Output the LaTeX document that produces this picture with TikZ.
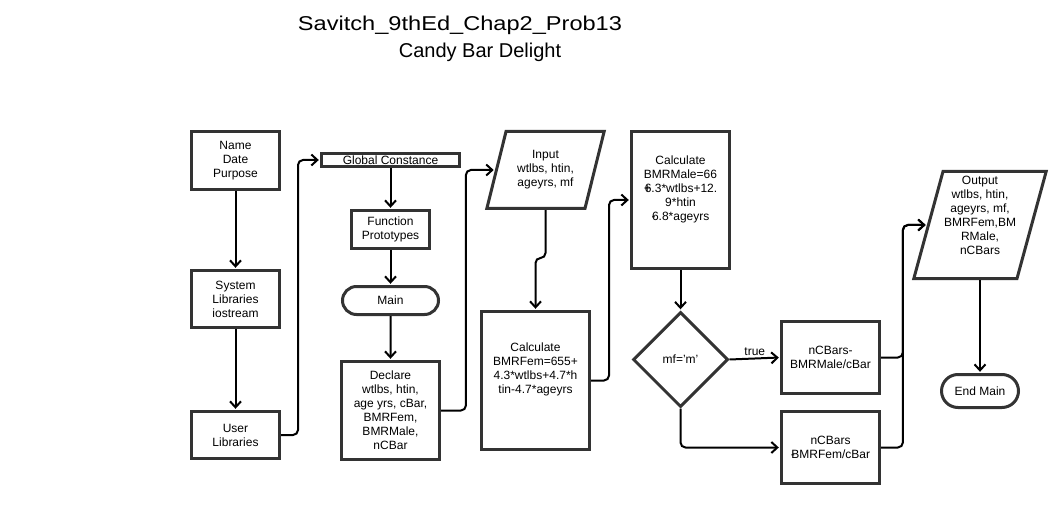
\documentclass[tikz,border=0pt]{standalone}
\usepackage{graphicx}
\usepackage{fontspec}
\setmainfont{Liberation Sans}
\usetikzlibrary{arrows.meta,shapes.geometric,shapes.misc}
\definecolor{boxgray}{HTML}{333333}
\newcommand{\bodyfnt}{\fontsize{12}{14}\selectfont}
\begin{document}
\begin{tikzpicture}[x=1pt,y=-1pt,
  box/.style={draw=boxgray, line width=3pt, fill=white, align=center, font=\bodyfnt, inner sep=1pt},
  term/.style={box, rounded rectangle},
  io/.style={box, trapezium, trapezium stretches=true},
  conn/.style={line width=2pt, draw=black, rounded corners=5pt, shorten >=1.2pt,
    -{Straight Barb[length=6pt,width=11pt]}},
  lbl/.style={font=\bodyfnt},
  ttl/.style={font=\fontsize{20}{24}\selectfont, inner sep=0pt}
]
\useasboundingbox (0,0) rectangle (1055,505);
\fill[white] (0,0) rectangle (1055,505);

% title
\node[ttl] (t1) at (460,25) {\scalebox{1.18}[1]{Savitch\_9thEd\_Chap2\_Prob13}};
\node[ttl] (t2) at (480,52) {Candy Bar Delight};

% column 1
\node[box, minimum width=88, minimum height=58] (name) at (235.5,160.5) {Name\\Date\\Purpose};
\node[box, minimum width=88, minimum height=57] (sys) at (235.5,299) {System\\Libraries\\iostream};
\node[box, minimum width=88, minimum height=47] (user) at (235.5,435) {User\\Libraries};

% column 2
\node[box, minimum width=138, minimum height=13, inner sep=0pt] (glob) at (390.5,160) {Global Constance};
\node[box, minimum width=78, minimum height=38] (proto) at (390.5,229.5) {Function\\Prototypes};
\node[term, minimum width=98, minimum height=28] (main) at (390.5,300.5) {Main};
\node[box, minimum width=98, minimum height=98] (decl) at (390.5,410.5) {Declare\\wtlbs, htin,\\age yrs, cBar,\\BMRFem,\\BMRMale,\\nCBar};

% column 3
\node[io, trapezium left angle=70.7, trapezium right angle=109.3, minimum width=118, minimum height=77] (in) at (545.5,170) {Input\\wtlbs, htin,\\ageyrs, mf};
\node[box, minimum width=108, minimum height=138] (fem) at (535.5,380.5) {Calculate\\BMRFem=655+\\4.3*wtlbs+4.7*h\\tin-4.7*ageyrs\\[10pt]};

% column 4
\node[box, minimum width=98, minimum height=137] (male) at (680.5,200) {Calculate\\BMRMale=66\\+\kern-0.5em 6.3*wtlbs+12.\\9*htin\\-\kern-0.3em 6.8*ageyrs\\[10pt]};
\node[box, diamond, aspect=1, minimum width=95, minimum height=95, inner sep=0pt] (dia) at (680.5,359.5) {mf='m'};

% column 5
\node[box, minimum width=98, minimum height=72] (nm) at (830.5,357.5) {nCBars-\\BMRMale/cBar};
\node[box, minimum width=98, minimum height=72] (nf) at (830.5,447.5) {nCBars\\-\kern-0.3em BMRFem/cBar};

% column 6
\node[io, trapezium left angle=73.8, trapezium right angle=106.2, minimum width=131, minimum height=107] (out) at (980,225) {Output\\wtlbs, htin,\\ageyrs, mf,\\BMRFem,BM\\RMale,\\nCBars\\[6pt]};
\node[term, minimum width=79, minimum height=33] (endm) at (980,391) {End Main};

% connectors
\draw[conn] (name) -- (sys);
\draw[conn] (sys) -- (user);
\draw[conn] (user.east) -| ([xshift=-22pt]glob.west) -- (glob.west);
\draw[conn] (glob) -- (proto);
\draw[conn] (proto) -- (main);
\draw[conn] (main) -- (decl);
\draw[conn] (decl.east) -| ([xshift=-29pt]in.west) -- (in.west);
\draw[conn] (in.south) -- ([yshift=-48pt]in.south) -| (fem.north);
\draw[conn] (fem.east) -| ([xshift=-21pt]male.west) -- (male.west);
\draw[conn] (male) -- (dia);
\draw[conn] (dia.east) -- node[lbl, above, inner sep=2pt] {true} (nm.west);
\draw[conn] (dia.south) |- (nf.west);
\draw[conn] (nm.east) -| ([xshift=-24pt]out.west) -- (out.west);
\draw[conn] (nf.east) -| ([xshift=-24pt]out.west) -- (out.west);
\draw[conn] (out) -- (endm);
\end{tikzpicture}
\end{document}
